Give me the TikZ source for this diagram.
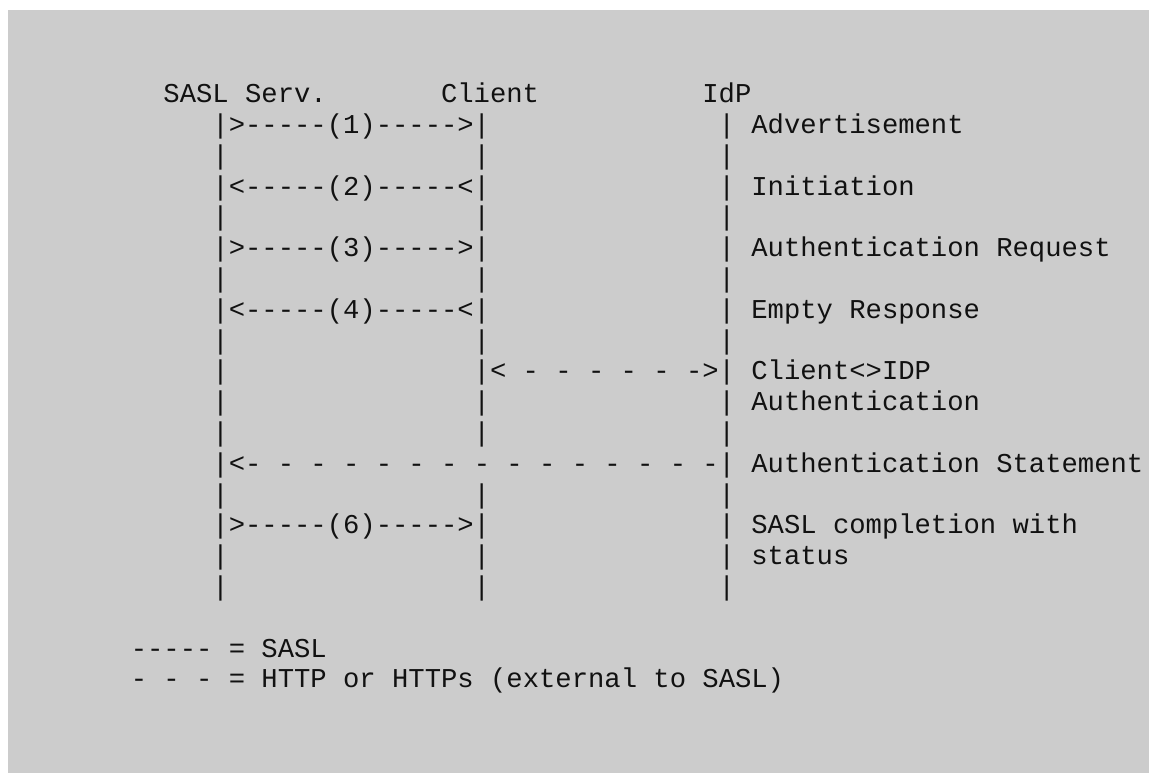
\documentclass[tikz,border=0pt]{standalone}
\usepackage{fontspec}
\setmonofont{Liberation Mono}
\definecolor{paper}{HTML}{CCCCCC}
\definecolor{ink}{HTML}{111111}
\tikzset{
  ascii/.style={anchor=base west, inner sep=0pt, outer sep=0pt,
    font=\ttfamily\fontsize{27.22pt}{30.8pt}\selectfont, text=ink},
}
\begin{document}
\begin{tikzpicture}
  \useasboundingbox (0,0) rectangle (1149pt,-773pt);
  \fill[paper] (8pt,-10pt) rectangle (1149pt,-773pt);
  % character grid: x = column, y = text line
  \begin{scope}[shift={(130.8pt,-102.7pt)}, x=16.33pt, y=-30.8pt]
    % participants
    \node[ascii] (serv)   at (2,0)  {SASL Serv.};
    \node[ascii] (client) at (19,0) {Client};
    \node[ascii] (idp)    at (35,0) {IdP};
    % lifelines
    \foreach \r in {1,...,16} {
      \node[ascii] (ls-\r) at (5,\r)  {|};
      \ifnum\r=12\else
        \node[ascii] (lc-\r) at (21,\r) {|};
      \fi
      \node[ascii] (li-\r) at (36,\r) {|};
    }
    % messages
    \node[ascii] (m1) at (6,1)   {>-----(1)----->};
    \node[ascii] (m2) at (6,3)   {<-----(2)-----<};
    \node[ascii] (m3) at (6,5)   {>-----(3)----->};
    \node[ascii] (m4) at (6,7)   {<-----(4)-----<};
    \node[ascii] (m5) at (22,9)  {< - - - - - ->};
    \node[ascii] (m6) at (6,12)  {<- - - - - - - - - - - - - - -};
    \node[ascii] (m7) at (6,14)  {>-----(6)----->};
    % step descriptions
    \node[ascii] (d1)  at (38,1)  {Advertisement};
    \node[ascii] (d2)  at (38,3)  {Initiation};
    \node[ascii] (d3)  at (38,5)  {Authentication Request};
    \node[ascii] (d4)  at (38,7)  {Empty Response};
    \node[ascii] (d5a) at (38,9)  {Client<>IDP};
    \node[ascii] (d5b) at (38,10) {Authentication};
    \node[ascii] (d6)  at (38,12) {Authentication Statement};
    \node[ascii] (d7a) at (38,14) {SASL completion with};
    \node[ascii] (d7b) at (38,15) {status};
    % legend
    \node[ascii] (k1) at (0,18) {----- = SASL};
    \node[ascii] (k2) at (0,19) {- - - = HTTP or HTTPs (external to SASL)};
  \end{scope}
\end{tikzpicture}
\end{document}
